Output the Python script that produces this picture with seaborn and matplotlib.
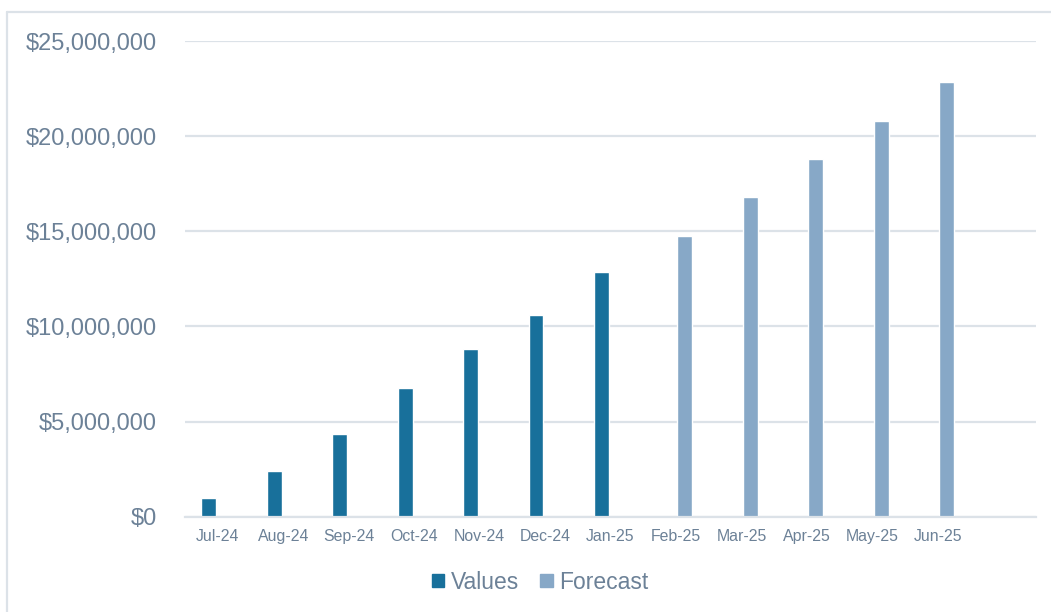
import pandas as pd
import numpy as np
import matplotlib.pyplot as plt
import matplotlib.ticker as mticker
from matplotlib.lines import Line2D
import seaborn as sns

# Monthly figures
months = ['Jul-24', 'Aug-24', 'Sep-24', 'Oct-24', 'Nov-24', 'Dec-24',
          'Jan-25', 'Feb-25', 'Mar-25', 'Apr-25', 'May-25', 'Jun-25']
actual_months = months[:7]
actual_values = [1000000, 2420000, 4370000, 6740000, 8790000, 10580000, 12840000]
forecast_months = months[7:]
forecast_values = [14760000, 16790000, 18790000, 20790000, 22840000]
series_names = ['Values', 'Forecast']

VALUES_COLOR = '#18709B'
FORECAST_COLOR = '#87A8C7'
TEXT_COLOR = '#6C8197'
GRID_COLOR = '#DCE2E8'

df = pd.concat([
    pd.DataFrame({'Month': actual_months, 'Amount': actual_values, 'Series': series_names[0]}),
    pd.DataFrame({'Month': forecast_months, 'Amount': forecast_values, 'Series': series_names[1]}),
], ignore_index=True)

sns.set_theme(style='white')
plt.rcParams['font.family'] = ['Liberation Sans', 'DejaVu Sans']

fig = plt.figure(figsize=(10.51, 6.12), dpi=100)
ax = fig.add_axes([0.176, 0.1557, 0.8097, 0.7773])

sns.barplot(data=df, x='Month', y='Amount', hue='Series', order=months,
            hue_order=series_names, palette=[VALUES_COLOR, FORECAST_COLOR],
            width=0.55, gap=0.17, dodge=True, errorbar=None, ax=ax, legend=False,
            saturation=1)

ax.set_xlim(-0.5, len(months) + 0.5)
ax.set_ylim(0, 25000000)
ax.yaxis.set_major_locator(mticker.MultipleLocator(5000000))
ax.yaxis.set_major_formatter(mticker.StrMethodFormatter('${x:,.0f}'))
ax.set_xlabel('')
ax.set_ylabel('')

ax.grid(axis='y', color=GRID_COLOR, linewidth=1.6)
ax.set_axisbelow(True)
for side in ['top', 'right', 'left']:
    ax.spines[side].set_visible(False)
ax.spines['bottom'].set_color(GRID_COLOR)
ax.spines['bottom'].set_linewidth(1.6)

ax.tick_params(axis='y', length=0, pad=20, labelsize=17, labelcolor=TEXT_COLOR)
ax.tick_params(axis='x', length=0, pad=9, labelsize=11.4, labelcolor=TEXT_COLOR)

handles = [plt.Rectangle((0, 0), 1, 1, color=c) for c in [VALUES_COLOR, FORECAST_COLOR]]
leg = ax.legend(handles, series_names, loc='center', bbox_to_anchor=(0.514, 0.049),
                bbox_transform=fig.transFigure, ncol=2, frameon=False,
                fontsize=16.5, handlelength=0.55, handleheight=0.55,
                handletextpad=0.3, columnspacing=0.9, borderpad=0)
for t in leg.get_texts():
    t.set_color(TEXT_COLOR)

# light frame visible along the top and left of the screenshot
fig.add_artist(Line2D([7 / 1051, 1], [1 - 12 / 612, 1 - 12 / 612],
                      transform=fig.transFigure, color=GRID_COLOR, linewidth=1.6))
fig.add_artist(Line2D([7 / 1051, 7 / 1051], [1 - 12 / 612, 0],
                      transform=fig.transFigure, color=GRID_COLOR, linewidth=1.6))

fig.savefig('out.png', dpi=100)
